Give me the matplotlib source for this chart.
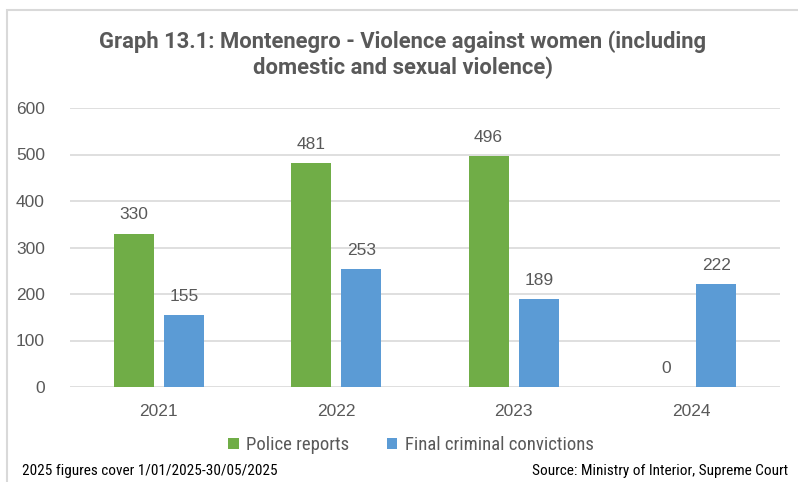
import matplotlib
matplotlib.use("Agg")
import matplotlib.pyplot as plt
import numpy as np
from matplotlib.patches import Rectangle

years = ["2021", "2022", "2023", "2024"]
police_reports = [330, 481, 496, 0]
convictions = [155, 253, 189, 222]
series_names = ["Police reports", "Final criminal convictions"]
title = "Graph 13.1: Montenegro - Violence against women (including\ndomestic and sexual violence)"
note_left = "2025 figures cover 1/01/2025-30/05/2025"
note_right = "Source: Ministry of Interior, Supreme Court"

GREEN = "#70AD47"
BLUE = "#5B9BD5"
GRAY = "#595959"

plt.rcParams['font.family'] = ['Liberation Sans', 'DejaVu Sans']

W, H = 798, 482
fig = plt.figure(figsize=(W/100, H/100), dpi=100)
ax = fig.add_axes([70/W, 1-387/H, 710/W, (387-108)/H])

x = np.arange(len(years))
bw = 0.225
off = 0.142
b1 = ax.bar(x - off, police_reports, bw, color=GREEN, label=series_names[0], zorder=3)
b2 = ax.bar(x + off, convictions, bw, color=BLUE, label=series_names[1], zorder=3)
for bars, vals in ((b1, police_reports), (b2, convictions)):
    for r, v in zip(bars, vals):
        ax.annotate(str(v), (r.get_x() + r.get_width()/2, v), xytext=(0, 8),
                    textcoords="offset points", ha="center", va="bottom",
                    fontsize=12.5, color=GRAY)

ax.set_xlim(-0.5, len(years) - 0.5)
ax.set_ylim(0, 600)
ax.set_yticks(range(0, 601, 100))
ax.set_xticks(x)
ax.set_xticklabels(years)
ax.grid(axis="y", color="#D9D9D9", linewidth=1.2, zorder=0)
for s in ax.spines.values():
    s.set_visible(False)
ax.tick_params(axis="both", length=0, labelsize=12.5, labelcolor=GRAY)
ax.tick_params(axis="y", pad=18)
ax.tick_params(axis="x", pad=12)

fig.text(0.5 + 8/W/2, 1-55/H, title, ha="center", va="center", fontsize=15.8,
         fontweight="bold", color=GRAY, linespacing=1.2, family=['Roboto', 'DejaVu Sans'])

narrow = ['Liberation Sans Narrow', 'Roboto Condensed', 'DejaVu Sans']
leg = fig.legend(handles=[b1, b2], loc="center", bbox_to_anchor=(411/W, 1-445/H),
                 ncol=2, frameon=False, fontsize=13.5, handlelength=0.55, handleheight=0.55,
                 columnspacing=2.0, handletextpad=0.4, prop={'family': narrow, 'size': 13.5})
for t in leg.get_texts():
    t.set_color(GRAY)

fig.text(22/W, 1-471/H, note_left, ha="left", va="center", fontsize=11,
         family=narrow, color="black")
fig.text(788/W, 1-471/H, note_right, ha="right", va="center", fontsize=11,
         family=narrow, color="black")

fig.patches.append(Rectangle((7/W, -0.1), 1.2, 1 - 10/H + 0.1, transform=fig.transFigure,
                             fill=False, edgecolor="#D9D9D9", linewidth=1.5))

fig.savefig("out.png", dpi=100)
